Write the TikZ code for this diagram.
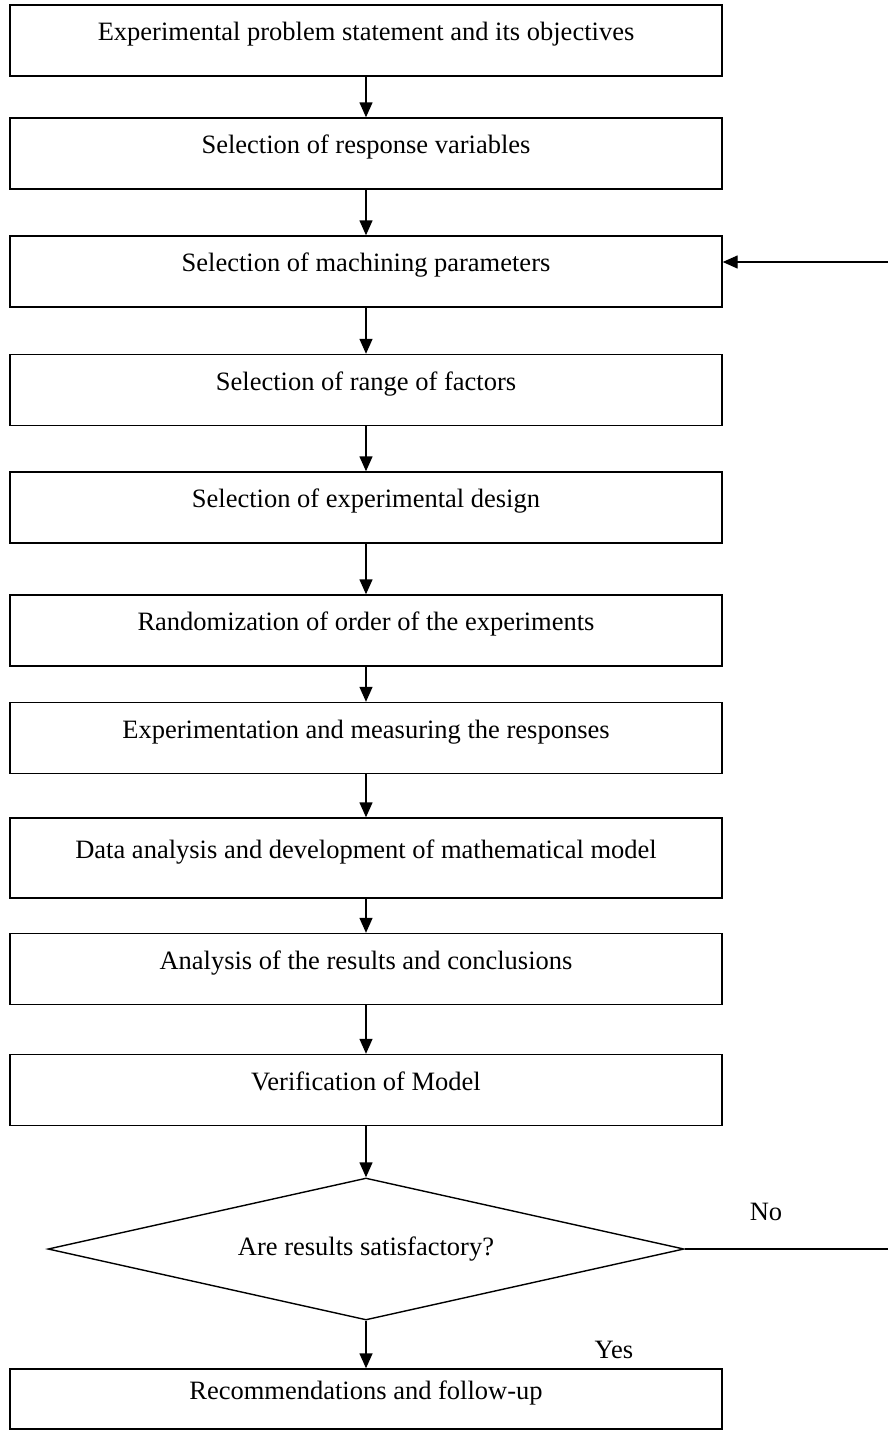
\documentclass[tikz,border=0pt]{standalone}
\usepackage{fontspec}
\setmainfont{Liberation Serif}
\usetikzlibrary{shapes.geometric,arrows.meta}
\begin{document}
\begin{tikzpicture}[x=1pt,y=-1pt,
  font=\fontsize{26.5}{30}\selectfont,
  every path/.style={line width=1.4pt},
  stepbox/.style={draw, minimum width=712pt, minimum height=71pt, inner sep=0pt, text height=9pt, text depth=9pt},
  check/.style={draw, diamond, minimum width=636pt, minimum height=142pt, inner sep=0pt, aspect=4.5},
  flow/.style={-{Triangle[length=15pt,width=13pt]}}]
\useasboundingbox (0,0) rectangle (887,1432);

\node[stepbox] (b1) at (366,40.5) {Experimental problem statement and its objectives};
\node[stepbox] (b2) at (366,153.5) {Selection of response variables};
\node[stepbox] (b3) at (366,271.5) {Selection of machining parameters};
\node[stepbox] (b4) at (366,390) {Selection of range of factors};
\node[stepbox] (b5) at (366,507.5) {Selection of experimental design};
\node[stepbox] (b6) at (366,630.5) {Randomization of order of the experiments};
\node[stepbox] (b7) at (366,738) {Experimentation and measuring the responses};
\node[stepbox, minimum height=80pt] (b8) at (366,858) {Data analysis and development of mathematical model};
\node[stepbox] (b9) at (366,969) {Analysis of the results and conclusions};
\node[stepbox] (b10) at (366,1090) {Verification of Model};
\node[check] (dec) at (366,1249) {Are results satisfactory?};
\node[stepbox, minimum height=60pt] (b11) at (366,1399) {Recommendations and follow-up};

\draw[flow] (b1) -- (b2);
\draw[flow] (b2) -- (b3);
\draw[flow] (b3) -- (b4);
\draw[flow] (b4) -- (b5);
\draw[flow] (b5) -- (b6);
\draw[flow] (b6) -- (b7);
\draw[flow] (b7) -- (b8);
\draw[flow] (b8) -- (b9);
\draw[flow] (b9) -- (b10);
\draw[flow] (b10) -- (dec);
\draw[flow] (dec) -- (b11);

\coordinate (fb) at (900,262);
\draw[flow] (dec.east) -| (fb) -- (b3.east |- fb);

\node (no) at (766,1212) {No};
\node (yes) at (614,1350) {Yes};

\end{tikzpicture}
\end{document}
